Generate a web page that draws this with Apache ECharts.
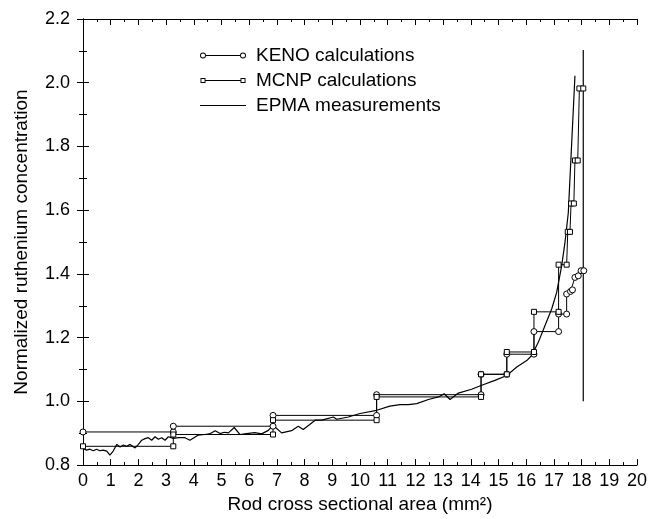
<!DOCTYPE html>
<html>
<head>
<meta charset="utf-8">
<script src="https://cdn.jsdelivr.net/npm/echarts@6/dist/echarts.min.js"></script>
<style>
  html, body { margin: 0; padding: 0; background: #fff; }
  #chart { width: 656px; height: 519px; }
</style>
</head>
<body>
<div id="chart"></div>
<script>
// KENO calculations (step points)
const kenoX = [0, 3.26, 3.26, 6.86, 6.86, 10.6, 10.6, 14.37, 14.37, 15.3, 15.3, 16.28, 16.28, 17.17, 17.17, 17.46, 17.46, 17.6, 17.67, 17.76, 17.88, 17.98, 18.08];
const kenoY = [0.904, 0.904, 0.922, 0.922, 0.956, 0.956, 1.021, 1.021, 1.085, 1.085, 1.148, 1.148, 1.219, 1.219, 1.274, 1.274, 1.337, 1.345, 1.35, 1.389, 1.394, 1.41, 1.41];

// MCNP calculations (step points)
const mcnpX = [0, 3.26, 3.26, 6.86, 6.86, 10.6, 10.6, 14.37, 14.37, 15.3, 15.3, 16.28, 16.28, 17.17, 17.17, 17.46, 17.5, 17.58, 17.62, 17.72, 17.76, 17.86, 17.92, 18.06];
const mcnpY = [0.859, 0.859, 0.896, 0.896, 0.941, 0.941, 1.014, 1.014, 1.085, 1.085, 1.155, 1.155, 1.281, 1.281, 1.429, 1.429, 1.532, 1.532, 1.621, 1.621, 1.756, 1.756, 1.982, 1.982];

// EPMA measurements ('-' breaks the line)
const epmaX = [0, 0.04, 0.13, 0.25, 0.37, 0.49, 0.61, 0.73, 0.86, 0.97, 1.09, 1.22, 1.34, 1.46, 1.58, 1.7, 1.88, 2.0, 2.12, 2.24, 2.36, 2.48, 2.6, 2.72, 2.84, 2.96, 3.08, 3.26, 3.45, 3.68, 3.86, 4.15, 4.4, 4.6, 4.77, 4.95, 5.1, 5.25, 5.46, 5.67, 5.9, 6.2, 6.45, 6.69, 6.86, 7.17, 7.53, 7.77, 7.95, 8.15, 8.38, 8.62, 9.04, 9.16, 9.58, 10.0, 10.6, 11.08, 11.44, 11.74, 12.05, 12.47, 12.83, 13.04, 13.25, 13.55, 14.03, 14.37, 14.87, 15.3, 15.66, 16.02, 16.2, 16.44, 16.68, 16.92, 17.1, 17.28, 17.4, 17.52, 17.76, 17.9, 18.06, 18.06];
const epmaY = [0.852, 0.854, 0.847, 0.85, 0.845, 0.85, 0.845, 0.847, 0.844, 0.831, 0.844, 0.865, 0.857, 0.863, 0.859, 0.865, 0.854, 0.865, 0.878, 0.883, 0.886, 0.878, 0.889, 0.881, 0.886, 0.878, 0.889, 0.884, 0.886, 0.886, 0.878, 0.894, 0.896, 0.899, 0.908, 0.899, 0.903, 0.901, 0.918, 0.896, 0.899, 0.902, 0.898, 0.909, 0.925, 0.901, 0.908, 0.922, 0.912, 0.925, 0.941, 0.941, 0.951, 0.944, 0.951, 0.962, 0.972, 0.985, 0.99, 0.99, 0.993, 1.006, 1.014, 1.024, 1.006, 1.026, 1.038, 1.05, 1.066, 1.081, 1.108, 1.128, 1.144, 1.186, 1.238, 1.29, 1.342, 1.425, 1.499, 1.592, 2.022, '-', 2.103, 1.0];

const seriesNames = ['KENO calculations', 'MCNP calculations', 'EPMA measurements'];

// legend icons: line with a ring marker at each end
const circleIcon = 'path://M0,3 A3,3 0 1,0 6,3 A3,3 0 1,0 0,3 Z M0.9,3 A2.1,2.1 0 1,1 5.1,3 A2.1,2.1 0 1,1 0.9,3 Z ' +
  'M6,2.5 L40,2.5 L40,3.5 L6,3.5 Z ' +
  'M40,3 A3,3 0 1,0 46,3 A3,3 0 1,0 40,3 Z M40.9,3 A2.1,2.1 0 1,1 45.1,3 A2.1,2.1 0 1,1 40.9,3 Z';
const squareIcon = 'path://M0.5,0.5 L5.5,0.5 L5.5,5.5 L0.5,5.5 Z M1.4,1.4 L1.4,4.6 L4.6,4.6 L4.6,1.4 Z ' +
  'M5.5,2.5 L40.5,2.5 L40.5,3.5 L5.5,3.5 Z ' +
  'M40.5,0.5 L45.5,0.5 L45.5,5.5 L40.5,5.5 Z M41.4,1.4 L41.4,4.6 L44.6,4.6 L44.6,1.4 Z M0,0 M46,6';
const lineIcon = 'path://M0,2.5 L46,2.5 L46,3.5 L0,3.5 Z M0,0 M46,6';

function zip(xs, ys) {
  return xs.map((x, i) => [x, ys[i]]);
}

const font = "'Liberation Sans', Arial, sans-serif";
const chart = echarts.init(document.getElementById('chart'), null, { renderer: 'canvas' });

const frameAxis = {
  min: 0, max: 20, interval: 1
};

const option = {
  backgroundColor: '#fff',
  animation: false,
  textStyle: { fontFamily: font, color: '#000' },
  grid: { left: 83, right: 19, top: 19, bottom: 52 },
  legend: {
    orient: 'vertical',
    left: 195,
    top: 41,
    itemWidth: 56,
    itemHeight: 6,
    itemGap: 6,
    selectedMode: false,
    textStyle: { fontSize: 19, fontFamily: font, color: '#000', lineHeight: 18 },
    data: [
      { name: seriesNames[0], icon: circleIcon, itemStyle: { color: '#000', borderWidth: 0 } },
      { name: seriesNames[1], icon: squareIcon, itemStyle: { color: '#000', borderWidth: 0 } },
      { name: seriesNames[2], icon: lineIcon, itemStyle: { color: '#000', borderWidth: 0 } }
    ]
  },
  xAxis: [
    {
      type: 'value', min: 0, max: 20, interval: 1,
      name: 'Rod cross sectional area (mm\u00B2)',
      nameLocation: 'middle', nameGap: 22,
      nameTextStyle: { fontSize: 19, fontFamily: font, color: '#000' },
      axisLine: { lineStyle: { color: '#000', width: 1 } },
      axisTick: { inside: true, length: 6, lineStyle: { color: '#000' } },
      minorTick: { show: true, splitNumber: 2, length: 3, lineStyle: { color: '#000' } },
      axisLabel: { fontSize: 18, color: '#000', fontFamily: font, margin: 7 },
      splitLine: { show: false }
    },
    {
      type: 'value', min: 0, max: 20, interval: 1, position: 'top',
      axisLine: { lineStyle: { color: '#000', width: 1 } },
      axisTick: { inside: true, length: 6, lineStyle: { color: '#000' } },
      minorTick: { show: true, splitNumber: 2, length: 3, lineStyle: { color: '#000' } },
      axisLabel: { show: false },
      splitLine: { show: false }
    }
  ],
  yAxis: [
    {
      type: 'value', min: 0.8, max: 2.2, interval: 0.2,
      name: 'Normalized ruthenium concentration',
      nameLocation: 'middle', nameGap: 52,
      nameTextStyle: { fontSize: 19, fontFamily: font, color: '#000' },
      axisLine: { show: true, lineStyle: { color: '#000', width: 1 } },
      axisTick: { show: true, inside: true, length: 6, lineStyle: { color: '#000' } },
      minorTick: { show: true, splitNumber: 2, length: 4, lineStyle: { color: '#000' } },
      axisLabel: { fontSize: 18, color: '#000', fontFamily: font, margin: 13, formatter: v => v.toFixed(1) },
      splitLine: { show: false }
    },
    {
      type: 'value', min: 0.8, max: 2.2, interval: 0.2, position: 'right',
      axisLine: { show: true, lineStyle: { color: '#000', width: 1 } },
      axisTick: { show: true, inside: true, length: 6, lineStyle: { color: '#000' } },
      minorTick: { show: true, splitNumber: 2, length: 4, lineStyle: { color: '#000' } },
      axisLabel: { show: false },
      splitLine: { show: false }
    }
  ],
  series: [
    {
      name: seriesNames[0],
      type: 'line',
      data: zip(kenoX, kenoY),
      symbol: 'circle',
      symbolSize: 6,
      showAllSymbol: true,
      itemStyle: { color: '#fff', borderColor: '#000', borderWidth: 1 },
      lineStyle: { color: '#000', width: 1 },
      z: 3
    },
    {
      name: seriesNames[1],
      type: 'line',
      data: zip(mcnpX, mcnpY),
      symbol: 'rect',
      symbolSize: 5,
      showAllSymbol: true,
      itemStyle: { color: '#fff', borderColor: '#000', borderWidth: 1 },
      lineStyle: { color: '#000', width: 1 },
      z: 3
    },
    {
      name: seriesNames[2],
      type: 'line',
      data: zip(epmaX, epmaY),
      symbol: 'none',
      connectNulls: false,
      lineStyle: { color: '#000', width: 1.2 },
      z: 2
    }
  ]
};

chart.setOption(option);
</script>
</body>
</html>
